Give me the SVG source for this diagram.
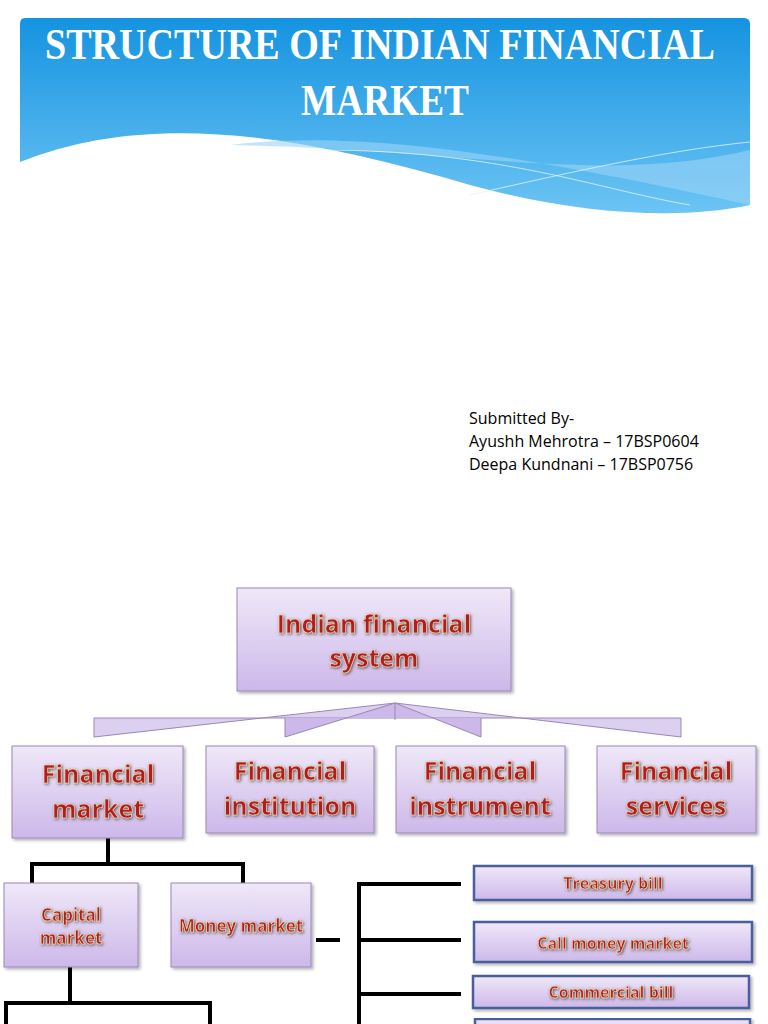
<svg xmlns="http://www.w3.org/2000/svg" width="768" height="1024" viewBox="0 0 768 1024">
<defs>
<linearGradient id="sky" x1="0" y1="0" x2="0" y2="1"><stop offset="0" stop-color="#1593e0"/><stop offset="1" stop-color="#6cc4f4"/></linearGradient>
<linearGradient id="box" x1="0" y1="0" x2="0" y2="1"><stop offset="0" stop-color="#efe8f8"/><stop offset="1" stop-color="#cdb8ea"/></linearGradient>
<filter id="glow" x="-10%" y="-20%" width="120%" height="140%"><feDropShadow dx="1" dy="1" stdDeviation="1.5" flood-color="#3a2a1a" flood-opacity="0.8"/></filter>
<filter id="sh" x="-5%" y="-5%" width="115%" height="120%"><feDropShadow dx="2" dy="2" stdDeviation="1.5" flood-color="#000" flood-opacity="0.3"/></filter>
</defs>
<style>
.b{fill:url(#box);stroke:#9a86b8;stroke-width:1;filter:url(#sh)}
.bb{fill:url(#box);stroke:#4a5e9a;stroke-width:2.5;filter:url(#sh)}
.t{font-family:"Open Sans","DejaVu Sans",sans-serif;font-weight:bold;fill:#b01e22;stroke:#f5e0b0;stroke-width:0.6;text-anchor:middle;filter:url(#glow)}
.l{stroke:#000;stroke-width:4;fill:none}
.s{font-family:"Open Sans","Liberation Sans",sans-serif;font-size:16px;fill:#000}
</style>
<rect width="768" height="1024" fill="#fff"/>
<g id="header">
<path d="M25 18 H744 Q750 18 750 24 V205 C680 220 580 215 470 185 C300 135 150 110 20 162 V24 Q20 18 25 18 Z" fill="url(#sky)"/>
<path d="M230 145 C350 130 500 150 750 205 L750 150 C600 185 470 150 230 145 Z" fill="#9bd4f7" opacity="0.6"/>
<path d="M320 150 C500 150 600 190 690 205" stroke="#e0f3ff" stroke-width="0.8" fill="none"/>
<path d="M470 195 C580 170 670 150 750 142" stroke="#e0f3ff" stroke-width="0.8" fill="none"/>
<text x="380" y="59" font-family="Liberation Serif,serif" font-weight="bold" font-size="44" fill="#fff" text-anchor="middle" textLength="670" lengthAdjust="spacingAndGlyphs">STRUCTURE OF INDIAN FINANCIAL</text>
<text x="385" y="115" font-family="Liberation Serif,serif" font-weight="bold" font-size="44" fill="#fff" text-anchor="middle" textLength="168" lengthAdjust="spacingAndGlyphs">MARKET</text>
</g>
<g id="submitted">
<text class="s" x="469" y="424">Submitted By-</text>
<text class="s" x="469" y="447">Ayushh Mehrotra – 17BSP0604</text>
<text class="s" x="469" y="470">Deepa Kundnani – 17BSP0756</text>
</g>
<g id="connectors">
<path d="M94 718 H681 V737 L395 703 L94 737 Z" fill="#dcd0f0" stroke="#9a86b8" stroke-width="1"/>
<path d="M285 718 V737 L395 703 L481 737 V718" fill="#cdb8ea" stroke="#9a86b8" stroke-width="1"/>
<line x1="395" y1="703" x2="395" y2="720" stroke="#9a86b8"/>
<path class="l" d="M108 838 V864 M32 883 V864 H243 V883"/>
<path class="l" d="M70 967 V1003 M6 1024 V1003 H210 V1024"/>
<path class="l" d="M316 940 H340 M461 884 H359 V1024 M359 940 H461 M359 994 H461"/>
</g>
<g id="n-ifs"><rect class="b" x="237" y="588" width="274" height="103"/><text class="t" font-size="25" x="374" y="633">Indian financial</text><text class="t" font-size="25" x="374" y="667">system</text></g>
<g id="n-fm"><rect class="b" x="12" y="746" width="171" height="92"/><text class="t" font-size="25" x="98" y="783">Financial</text><text class="t" font-size="25" x="98" y="818">market</text></g>
<g id="n-fi"><rect class="b" x="206" y="746" width="168" height="87"/><text class="t" font-size="25" x="290" y="780">Financial</text><text class="t" font-size="25" x="290" y="815">institution</text></g>
<g id="n-fin"><rect class="b" x="396" y="746" width="169" height="87"/><text class="t" font-size="25" x="480" y="780">Financial</text><text class="t" font-size="25" x="480" y="815">instrument</text></g>
<g id="n-fs"><rect class="b" x="597" y="746" width="159" height="87"/><text class="t" font-size="25" x="676" y="780">Financial</text><text class="t" font-size="25" x="676" y="815">services</text></g>
<g id="n-cm"><rect class="b" x="4" y="883" width="134" height="84"/><text class="t" font-size="17" x="71" y="921">Capital</text><text class="t" font-size="17" x="71" y="944">market</text></g>
<g id="n-mm"><rect class="b" x="171" y="883" width="140" height="84"/><text class="t" font-size="17" x="241" y="932">Money market</text></g>
<g id="n-tb"><rect class="bb" x="474" y="866" width="278" height="34"/><text class="t" font-size="16" x="613" y="889">Treasury bill</text></g>
<g id="n-cmm"><rect class="bb" x="474" y="922" width="278" height="40"/><text class="t" font-size="16" x="613" y="949">Call money market</text></g>
<g id="n-cb"><rect class="bb" x="473" y="976" width="276" height="32"/><text class="t" font-size="16" x="611" y="998">Commercial bill</text></g>
<g id="n-next"><rect class="bb" x="475" y="1019" width="275" height="20"/></g>
</svg>
